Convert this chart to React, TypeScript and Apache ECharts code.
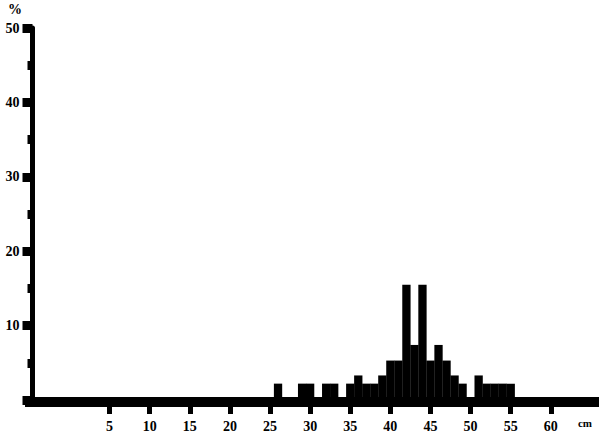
import React, { useEffect, useRef } from "react";
import * as echarts from "echarts";

// Body length classes (cm) and percentage of fish in each class
const lengths = [26, 29, 30, 32, 33, 35, 36, 37, 38, 39, 40, 41, 42, 43, 44, 45, 46, 47, 48, 49, 51, 52, 53, 54, 55];
const percent = [2.2, 2.2, 2.2, 2.2, 2.2, 2.2, 3.3, 2.2, 2.2, 3.3, 5.3, 5.3, 15.5, 7.4, 15.5, 5.3, 7.4, 5.3, 3.3, 2.2, 3.3, 2.2, 2.2, 2.2, 2.2];
const xTicks = [5, 10, 15, 20, 25, 30, 35, 40, 45, 50, 55, 60];
const yLabels = [10, 20, 30, 40, 50];

const FONT = "Liberation Serif";

export default function App() {
  const ref = useRef<HTMLDivElement>(null);
  useEffect(() => {
    if (!ref.current) return;
    const chart = echarts.init(ref.current, undefined, { renderer: "svg" });
    chart.setOption({
      animation: false,
      backgroundColor: "#fff",
      grid: { left: 32.5, right: 0, top: 28, bottom: 37, containLabel: false },
      xAxis: {
        type: "value",
        min: -4.6,
        max: 66,
        offset: 2,
        splitLine: { show: false },
        axisLine: { show: true, onZero: false, lineStyle: { color: "#000", width: 10 } },
        axisTick: { show: true, customValues: xTicks, length: 12, lineStyle: { color: "#000", width: 5 } },
        axisLabel: {
          show: true,
          customValues: xTicks,
          margin: 17,
          color: "#000",
          fontFamily: FONT,
          fontWeight: "bold",
          fontSize: 14,
        },
      },
      yAxis: {
        type: "value",
        min: 0,
        max: 50,
        interval: 10,
        splitLine: { show: false },
        axisLine: { show: true, onZero: false, lineStyle: { color: "#000", width: 5 } },
        axisTick: { show: true, length: 10, lineStyle: { color: "#000", width: 9 } },
        minorTick: { show: true, splitNumber: 2, length: 5, lineStyle: { color: "#000", width: 9 } },
        axisLabel: {
          show: true,
          margin: 13,
          color: "#000",
          fontFamily: FONT,
          fontWeight: "bold",
          fontSize: 14,
          padding: [7, 0, 0, 0],
          formatter: (v: number) => (yLabels.includes(v) ? String(v) : ""),
        },
      },
      series: [
        {
          type: "bar",
          data: lengths.map((l, i) => [l, percent[i]]),
          barWidth: 8.3,
          itemStyle: { color: "#000" },
          silent: true,
        },
      ],
      graphic: [
        { type: "rect", shape: { x: 25, y: 397, width: 10, height: 10 }, style: { fill: "#000" } },
        {
          type: "text",
          x: 15,
          y: 9,
          style: { text: "%", fill: "#000", font: `bold 14px ${FONT}`, align: "center", verticalAlign: "middle" },
        },
        {
          type: "text",
          x: 585,
          y: 423,
          style: { text: "cm", fill: "#000", font: `bold 11px ${FONT}`, align: "center", verticalAlign: "middle" },
        },
      ],
    });
    return () => chart.dispose();
  }, []);
  return <div ref={ref} style={{ position: "fixed", left: 0, top: 0, width: 599, height: 437 }} />;
}
